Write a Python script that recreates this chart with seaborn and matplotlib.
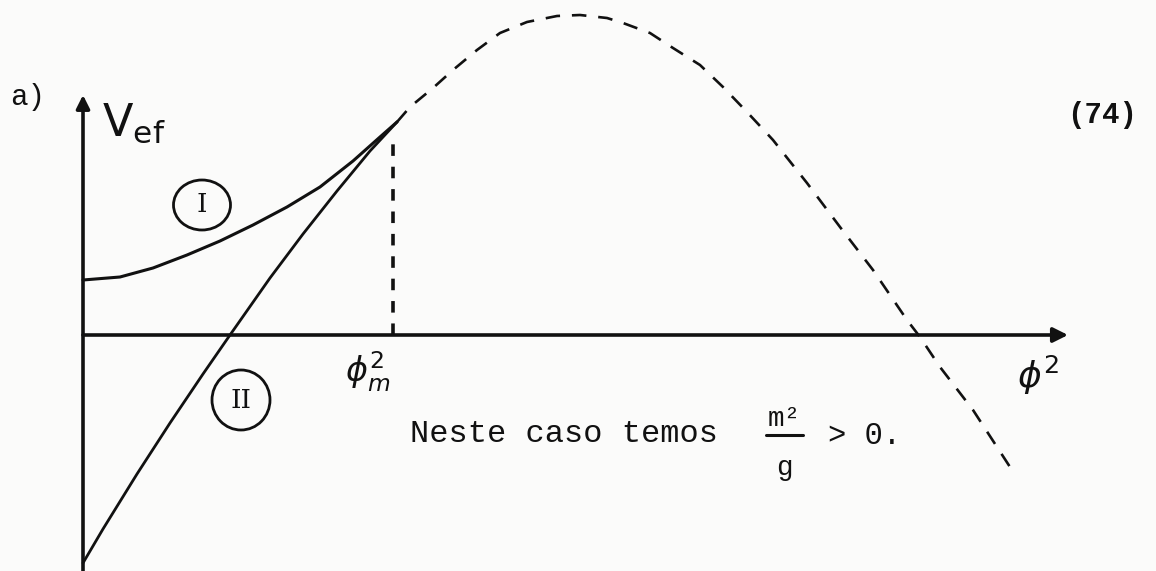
import matplotlib
matplotlib.use("Agg")
import matplotlib.pyplot as plt
from matplotlib.patches import Ellipse
import seaborn as sns

# Curve I: effective potential branch (phi^2, V_ef)
phi_I = [0.00, 0.37, 0.70, 1.04, 1.37, 1.70, 2.04, 2.37, 2.70, 2.97, 3.14]
v_I = [0.55, 0.58, 0.67, 0.80, 0.94, 1.10, 1.28, 1.48, 1.74, 1.98, 2.13]

# Curve II
phi_II = [0.00, 0.20, 0.54, 0.87, 1.20, 1.47, 1.87, 2.20, 2.54, 2.87, 3.14]
v_II = [-2.28, -1.94, -1.39, -0.88, -0.39, 0.00, 0.57, 1.01, 1.44, 1.84, 2.13]

# Continuation beyond phi_m^2 (dashed)
phi_cont = [3.14, 3.27, 3.50, 3.70, 3.94, 4.17, 4.44, 4.74, 4.97, 5.24, 5.40,
            5.67, 5.90, 6.17, 6.40, 6.64, 6.90, 7.24, 7.57, 7.90, 8.24, 8.37,
            8.57, 8.90, 9.27]
v_cont = [2.13, 2.28, 2.47, 2.65, 2.85, 3.02, 3.13, 3.19, 3.20, 3.17, 3.12,
          3.02, 2.87, 2.70, 2.48, 2.23, 1.95, 1.52, 1.08, 0.65, 0.15, -0.02,
          -0.32, -0.75, -1.32]

# Marked position phi_m^2 on the horizontal axis
phi_m = [3.10, 3.10]
v_m = [0.00, 1.98]

sns.set_theme(style="white")
plt.rcParams["font.family"] = ["DejaVu Sans"]

paper = "#fbfbfa"
ink = "#111111"

fig = plt.figure(figsize=(11.56, 5.71), dpi=100, facecolor=paper)
ax = fig.add_axes([0, 0, 1, 1])
ax.set_facecolor(paper)
ax.set_xlim(-0.83, 10.73)
ax.set_ylim(-2.36, 3.35)
ax.axis("off")

# Axes with arrowheads
ax.annotate("", xy=(9.85, 0), xytext=(0, 0),
            arrowprops=dict(arrowstyle="-|>", lw=2.6, color=ink,
                            mutation_scale=22, shrinkA=0, shrinkB=0))
ax.annotate("", xy=(0, 2.40), xytext=(0, -2.36),
            arrowprops=dict(arrowstyle="-|>", lw=2.6, color=ink,
                            mutation_scale=20, shrinkA=0, shrinkB=0))

line_kw = dict(ax=ax, color=ink, sort=False, estimator=None, errorbar=None)
sns.lineplot(x=phi_I, y=v_I, lw=2.2, **line_kw)
sns.lineplot(x=phi_II, y=v_II, lw=2.0, **line_kw)
sns.lineplot(x=phi_cont, y=v_cont, lw=1.9, linestyle=(0, (5.5, 4.5)), **line_kw)
sns.lineplot(x=phi_m, y=v_m, lw=2.6, linestyle=(0, (3.2, 3.0)), **line_kw)

# Circled branch labels
ax.add_patch(Ellipse((1.19, 1.30), 0.57, 0.50, fill=False, ec=ink, lw=2))
ax.text(1.19, 1.30, "I", ha="center", va="center", fontsize=19,
        family="DejaVu Serif", color=ink)
ax.add_patch(Ellipse((1.58, -0.65), 0.58, 0.60, fill=False, ec=ink, lw=2))
ax.text(1.58, -0.65, "II", ha="center", va="center", fontsize=19,
        family="DejaVu Serif", color=ink)

# Axis labels
ax.text(0.19, 2.12, r"$\mathrm{V}_{\mathrm{ef}}$", ha="left", va="center",
        fontsize=32, color=ink)
ax.text(2.85, -0.37, r"$\phi^2_m$", ha="center", va="center", fontsize=24,
        color=ink)
ax.text(9.55, -0.40, r"$\phi^2$", ha="center", va="center", fontsize=26,
        color=ink)

# Panel tag and equation number
ax.text(-0.73, 2.38, "a)", ha="left", va="center", fontsize=21,
        family="Liberation Mono", color=ink)
ax.text(9.84, 2.20, "(74)", ha="left", va="center", fontsize=21,
        family="Liberation Mono", weight="bold", color=ink)

# Caption with fraction m^2/g
ax.text(3.27, -0.99, "Neste caso temos", ha="left", va="center", fontsize=23,
        family="Liberation Mono", color=ink)
ax.text(7.01, -0.84, "m²", ha="center", va="center", fontsize=20,
        family="Liberation Mono", color=ink)
ax.plot([6.83, 7.20], [-1.00, -1.00], color=ink, lw=2.2)
ax.text(7.01, -1.33, "g", ha="center", va="center", fontsize=20,
        family="Liberation Mono", color=ink)
ax.text(7.45, -1.01, "> 0.", ha="left", va="center", fontsize=22,
        family="Liberation Mono", color=ink)

fig.savefig("out.png", dpi=100, facecolor=fig.get_facecolor())
